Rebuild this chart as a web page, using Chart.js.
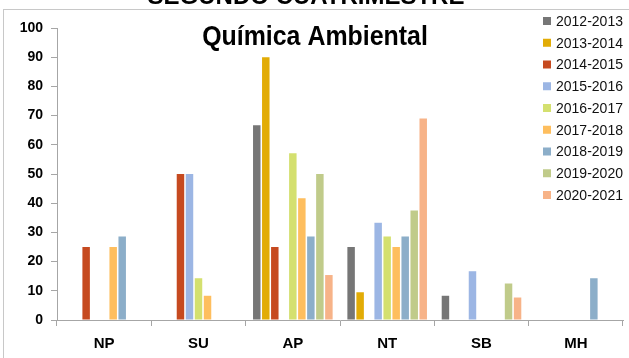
<!DOCTYPE html>
<html>
<head>
<meta charset="utf-8">
<script src="https://cdn.jsdelivr.net/npm/chart.js@4.4.0/dist/chart.umd.min.js"></script>
<style>
  html, body { margin: 0; padding: 0; background: #fff; }
  #wrap { position: relative; width: 629px; height: 358px; overflow: hidden; }
</style>
</head>
<body>
<div id="wrap"><canvas id="chart"></canvas></div>
<script>
// categories (evaluation result) and school years
const categories = ['NP', 'SU', 'AP', 'NT', 'SB', 'MH'];
const years = ['2012-2013', '2013-2014', '2014-2015', '2015-2016', '2016-2017',
               '2017-2018', '2018-2019', '2019-2020', '2020-2021'];
const yTicks = [0, 10, 20, 30, 40, 50, 60, 70, 80, 90, 100];

// percentages per year, one value per category (null = no bar)
const y2012 = [null, null, 66.7, 25, 8.3, null];
const y2013 = [null, null, 90, 9.5, null, null];
const y2014 = [25, 50, 25, null, null, null];
const y2015 = [null, 50, null, 33.3, 16.7, null];
const y2016 = [null, 14.3, 57.1, 28.6, null, null];
const y2017 = [25, 8.3, 41.7, 25, null, null];
const y2018 = [28.6, null, 28.6, 28.6, null, 14.3];
const y2019 = [null, null, 50, 37.5, 12.5, null];
const y2020 = [null, null, 15.4, 69, 7.7, null];

const series = [y2012, y2013, y2014, y2015, y2016, y2017, y2018, y2019, y2020];
const colors = ['#767676', '#e2ac06', '#c64a20', '#9cb6e4', '#d4e06f',
                '#febe5e', '#8caec9', '#c0cb8a', '#f7b388'];

const FONT = "'Liberation Sans', Arial, sans-serif";
const axisGrey = '#a6a6a6';

// frame, headings and legend drawn over the canvas
const decorations = {
  id: 'decorations',
  afterDraw(chart) {
    const ctx = chart.ctx;
    ctx.save();
    ctx.strokeStyle = '#c8c8c8';
    ctx.lineWidth = 1;
    ctx.strokeRect(3.5, 9.5, 700, 400);

    ctx.fillStyle = '#000';
    ctx.textAlign = 'center';
    ctx.textBaseline = 'alphabetic';
    ctx.font = 'bold 24px ' + FONT;
    ctx.fillText('SEGUNDO CUATRIMESTRE', 306, 4);

    ctx.save();
    ctx.translate(315, 45);
    ctx.scale(0.89, 1);
    ctx.font = 'bold 28px ' + FONT;
    ctx.fillText('Química Ambiental', 0, 0);
    ctx.restore();

    ctx.textAlign = 'left';
    ctx.textBaseline = 'middle';
    ctx.font = '14px ' + FONT;
    years.forEach((y, i) => {
      const cy = 21 + i * 21.75;
      ctx.fillStyle = colors[i];
      ctx.fillRect(543, cy - 4, 8, 8);
      ctx.fillStyle = '#111';
      ctx.fillText(y, 556, cy + 1);
    });
    ctx.restore();
  }
};

new Chart(document.getElementById('chart'), {
  type: 'bar',
  data: {
    labels: categories,
    datasets: years.map((y, i) => ({
      label: y,
      data: series[i],
      backgroundColor: colors[i],
      borderWidth: 0,
      categoryPercentage: 0.86,
      barPercentage: 0.83
    }))
  },
  options: {
    responsive: true,
    maintainAspectRatio: false,
    animation: false,
    layout: { padding: { top: 28, right: 6, left: 0, bottom: 0 } },
    scales: {
      y: {
        min: 0,
        max: 100,
        afterFit: s => { s.width = 57; },
        afterBuildTicks: s => { s.ticks = yTicks.map(v => ({ value: v })); },
        grid: { drawOnChartArea: false, tickLength: 6, color: axisGrey },
        border: { color: axisGrey },
        ticks: { color: '#000', padding: 8, font: { family: FONT, size: 14, weight: 'bold' } }
      },
      x: {
        afterFit: s => { s.height = 38; },
        grid: { drawOnChartArea: false, tickLength: 6, offset: true, color: axisGrey },
        border: { color: axisGrey },
        ticks: { color: '#000', padding: 9, font: { family: FONT, size: 15, weight: 'bold' } }
      }
    },
    plugins: {
      legend: { display: false },
      tooltip: { enabled: false }
    }
  },
  plugins: [decorations]
});
</script>
</body>
</html>
